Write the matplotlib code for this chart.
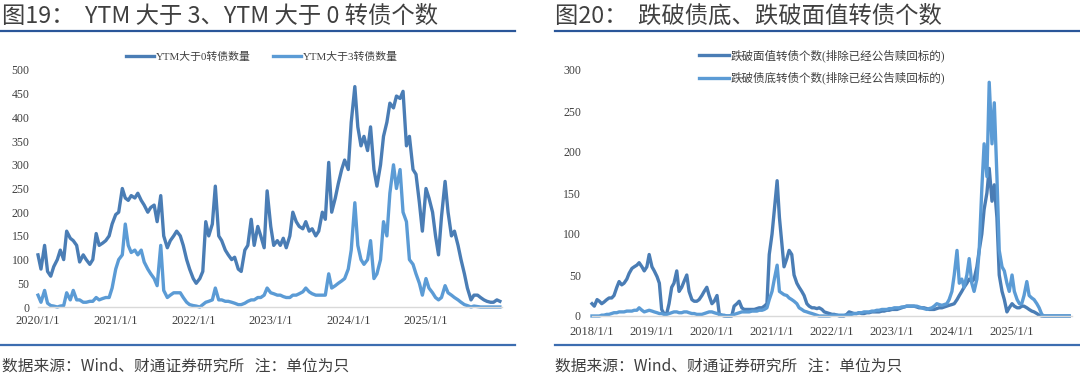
import matplotlib
matplotlib.use("Agg")
import matplotlib.pyplot as plt
import numpy as np
import pandas as pd
from matplotlib.lines import Line2D

# ---- data (semi-monthly) ----
ytm0_count = [110, 80, 130, 75, 65, 85, 100, 120, 100, 160, 145, 140, 130, 95, 110, 100,
              90, 100, 155, 130, 135, 140, 150, 175, 195, 200, 250, 230, 225, 235, 230, 240,
              225, 215, 200, 210, 215, 180, 235, 150, 125, 140, 150, 160, 150, 130, 100, 80,
              60, 50, 60, 75, 180, 150, 175, 255, 150, 140, 120, 110, 100, 105, 80, 75,
              120, 130, 185, 130, 170, 150, 125, 245, 170, 130, 140, 130, 145, 125, 150, 200,
              180, 170, 165, 180, 160, 165, 150, 160, 200, 185, 305, 200, 230, 260, 290, 310,
              290, 390, 465, 380, 340, 360, 330, 380, 290, 255, 300, 360, 390, 430, 420, 445,
              440, 455, 340, 360, 290, 280, 220, 160, 250, 230, 200, 150, 110, 190, 265, 200,
              150, 160, 130, 100, 70, 40, 15, 25, 25, 20, 15, 12, 10, 10, 15, 12]
ytm3_count = [25, 10, 35, 8, 3, 2, 0, 2, 3, 30, 15, 35, 15, 15, 10, 10,
              12, 12, 20, 15, 18, 20, 20, 40, 80, 100, 110, 175, 130, 115, 120, 110,
              120, 95, 80, 70, 60, 45, 130, 35, 20, 25, 30, 30, 30, 20, 10, 5,
              3, 2, 0, 5, 10, 12, 15, 40, 15, 15, 12, 12, 10, 8, 5, 5,
              8, 12, 15, 15, 20, 20, 25, 40, 30, 28, 25, 25, 22, 20, 20, 25,
              25, 28, 32, 40, 32, 28, 25, 25, 25, 25, 70, 40, 45, 50, 55, 60,
              80, 120, 220, 130, 100, 90, 100, 140, 60, 70, 100, 180, 150, 240, 300, 250,
              290, 200, 180, 100, 90, 70, 50, 25, 60, 40, 30, 20, 15, 20, 45, 30,
              25, 20, 15, 10, 5, 3, 0, 2, 1, 0, 0, 0, 0, 0, 0, 0]

below_par = [15, 12, 20, 18, 15, 17, 20, 22, 22, 25, 35, 42, 38, 40, 45, 52,
             58, 60, 62, 65, 60, 55, 60, 75, 60, 55, 48, 40, 8, 3, 3, 15,
             35, 40, 55, 30, 35, 42, 50, 30, 20, 18, 18, 20, 25, 30, 35, 25,
             15, 18, 25, 2, 1, 0, 0, 0, 0, 12, 15, 18, 10, 8, 8, 8,
             8, 8, 9, 10, 10, 12, 15, 75, 100, 130, 165, 120, 90, 60, 70, 80,
             75, 50, 40, 35, 30, 25, 15, 12, 10, 10, 9, 10, 8, 5, 4, 3,
             2, 2, 1, 0, 0, 0, 2, 5, 4, 3, 3, 4, 3, 3, 4, 4,
             5, 5, 5, 5, 6, 6, 7, 7, 8, 8, 8, 9, 10, 11, 12, 12,
             12, 12, 11, 10, 10, 10, 9, 8, 8, 8, 9, 10, 10, 11, 12, 13,
             14, 15, 20, 25, 30, 35, 40, 45, 42, 45, 60, 80, 100, 130, 150, 180,
             140, 160, 120, 50, 30, 20, 5, 10, 15, 12, 10, 10, 12, 12, 10, 8,
             6, 5, 3, 1, 0, 0, 0, 0, 0, 0, 0, 0, 0, 0, 0, 0]
below_floor = [0, 0, 0, 0, 1, 1, 2, 2, 3, 4, 4, 5, 5, 5, 6, 6,
               6, 7, 7, 10, 7, 5, 6, 7, 6, 5, 4, 3, 3, 2, 2, 3,
               4, 5, 5, 4, 4, 5, 5, 4, 3, 3, 2, 2, 2, 3, 4, 5,
               5, 4, 3, 2, 1, 1, 0, 0, 1, 2, 3, 4, 5, 5, 5, 5,
               6, 6, 6, 7, 7, 8, 10, 20, 30, 45, 62, 30, 28, 26, 25, 22,
               20, 18, 15, 10, 8, 6, 5, 4, 3, 2, 1, 0, 0, 0, 0, 0,
               1, 1, 1, 1, 1, 1, 1, 2, 2, 3, 3, 4, 4, 5, 5, 5,
               6, 6, 7, 7, 8, 8, 8, 9, 9, 10, 10, 10, 11, 11, 12, 12,
               12, 12, 12, 11, 10, 9, 8, 9, 10, 12, 15, 14, 13, 14, 15, 20,
               30, 50, 80, 40, 45, 35, 50, 70, 40, 30, 45, 80, 155, 210, 170, 285,
               210, 260, 170, 80, 60, 55, 40, 30, 50, 30, 20, 15, 15, 25, 42, 25,
               22, 20, 15, 10, 2, 0, 0, 0, 0, 0, 0, 0, 0, 0, 0, 0]

left_years = [2020, 2021, 2022, 2023, 2024, 2025]
right_years = [2018, 2019, 2020, 2021, 2022, 2023, 2024, 2025]

left_title = "图19：  YTM 大于 3、YTM 大于 0 转债个数"
right_title = "图20：  跌破债底、跌破面值转债个数"
note = "数据来源：Wind、财通证券研究所   注：单位为只"

DARK = "#4a7db5"
LIGHT = "#5b9bd5"
TXT = "#404040"
RULE = "#2a5699"

SERIF = ["Liberation Serif", "Noto Sans CJK SC"]
SANS = ["Noto Sans CJK SC", "DejaVu Sans"]

left_dates = pd.date_range("2020-01-01", periods=len(ytm0_count), freq="SMS")
right_dates = pd.date_range("2018-01-01", periods=len(below_par), freq="SMS")

fig = plt.figure(figsize=(10.8, 3.76), dpi=100)
W, H = 1080, 376


def box(x0, y0, x1, y1):
    return [x0 / W, 1 - y1 / H, (x1 - x0) / W, (y1 - y0) / H]


def style(ax, years, ymax, step, xpad, ypad):
    for s in ["top", "right", "left"]:
        ax.spines[s].set_visible(False)
    ax.spines["bottom"].set_color("#d9d9d9")
    ax.spines["bottom"].set_linewidth(1.0)
    ax.set_ylim(0, ymax)
    ax.set_yticks(np.arange(0, ymax + 1, step))
    ax.set_xticks([pd.Timestamp(f"{y}-01-01") for y in years])
    ax.set_xticklabels([f"{y}/1/1" for y in years])
    ax.tick_params(length=0, colors=TXT)
    ax.tick_params(axis="y", pad=ypad, labelsize=8.5)
    ax.tick_params(axis="x", pad=xpad, labelsize=9)
    for lab in ax.get_xticklabels() + ax.get_yticklabels():
        lab.set_family(SERIF)
        lab.set_color(TXT)


# left panel
ax1 = fig.add_axes(box(38, 70, 502, 307))
ax1.plot(left_dates, ytm0_count, color=DARK, lw=2.4, label="YTM大于0转债数量", clip_on=False)
ax1.plot(left_dates, ytm3_count, color=LIGHT, lw=2.4, label="YTM大于3转债数量", clip_on=False)
ax1.set_xlim(pd.Timestamp("2020-01-01"), pd.Timestamp("2025-12-25"))
style(ax1, left_years, 500, 50, 6, 6)
leg1 = ax1.legend(loc="center", bbox_to_anchor=((262 - 38) / 464, 1 + (70 - 57) / 237),
                  ncol=2, frameon=False, prop={"family": SERIF, "size": 7.8},
                  handlelength=2.6, columnspacing=2.0, handletextpad=0.2)
for t in leg1.get_texts():
    t.set_color(TXT)

# right panel
ax2 = fig.add_axes(box(592, 70, 1072, 316))
ax2.plot(right_dates, below_par, color=DARK, lw=2.4,
         label="跌破面值转债个数(排除已经公告赎回标的)", clip_on=False)
ax2.plot(right_dates, below_floor, color=LIGHT, lw=2.4,
         label="跌破债底转债个数(排除已经公告赎回标的)", clip_on=False)
ax2.set_xlim(pd.Timestamp("2018-01-01"), pd.Timestamp("2026-01-01"))
style(ax2, right_years, 300, 50, 7, 8)
leg2 = ax2.legend(loc="center", bbox_to_anchor=((822 - 592) / 480, 1 + (70 - 67) / 246),
                  ncol=1, frameon=False, prop={"family": SERIF, "size": 8.3},
                  handlelength=2.6, labelspacing=0.85, handletextpad=0.2)
for t in leg2.get_texts():
    t.set_color(TXT)

# titles, rules, notes
fig.text(2 / W, 1 - 16 / H, left_title, family=SANS, fontsize=16.8, color=TXT, va="center", ha="left")
fig.text(555 / W, 1 - 16 / H, right_title, family=SANS, fontsize=16.8, color=TXT, va="center", ha="left")
fig.text(2 / W, 1 - 366 / H, note, family=SANS, fontsize=11.3, color=TXT, va="center", ha="left")
fig.text(555 / W, 1 - 366 / H, note, family=SANS, fontsize=11.3, color=TXT, va="center", ha="left")

for x0, x1 in [(0, 515), (555, 1080)]:
    fig.add_artist(Line2D([x0 / W, x1 / W], [1 - 31 / H] * 2, color=RULE, lw=1.6))
    fig.add_artist(Line2D([x0 / W, x1 / W], [1 - 345 / H] * 2, color="#3c6db0", lw=1.6))

fig.savefig("out.png", dpi=100)
